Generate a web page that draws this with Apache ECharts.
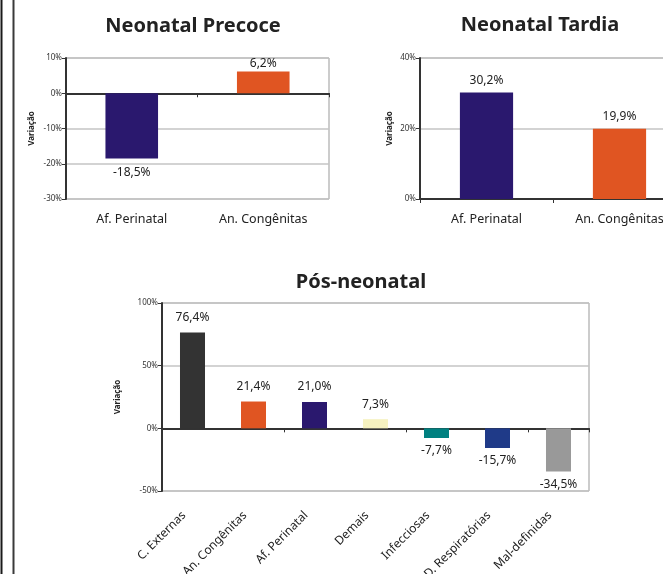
<!DOCTYPE html>
<html>
<head>
<meta charset="utf-8">
<script src="https://cdn.jsdelivr.net/npm/echarts@6/dist/echarts.min.js"></script>
<style>
  html, body { margin: 0; padding: 0; background: #ffffff; }
  #chart { width: 663px; height: 574px; }
</style>
</head>
<body>
<div id="chart"></div>
<script>
// Variação da mortalidade infantil por componente e grupo de causas
const precoceTitle = 'Neonatal Precoce';
const precoceCategories = ['Af. Perinatal', 'An. Congênitas'];
const precoceValues = [-18.5, 6.2];

const tardiaTitle = 'Neonatal Tardia';
const tardiaCategories = ['Af. Perinatal', 'An. Congênitas'];
const tardiaValues = [30.2, 19.9];

const posTitle = 'Pós-neonatal';
const posCategories = ['C. Externas', 'An. Congênitas', 'Af. Perinatal', 'Demais', 'Infecciosas', 'D. Respiratórias', 'Mal-definidas'];
const posValues = [76.4, 21.4, 21.0, 7.3, -7.7, -15.7, -34.5];

// axis ranges (min, max, step) for each panel
const precoceScale = [-30, 10, 10];
const tardiaScale = [0, 40, 20];
const posScale = [-50, 100, 50];

const axisName = 'Variação';

// colours per category
const precoceColors = ['#2a186e', '#e05522'];
const tardiaColors = ['#2a186e', '#e05522'];
const posColors = ['#333333', '#e05522', '#2a186e', '#f6f2c0', '#008080', '#1f3a88', '#999999'];

const FONT = 'Noto Sans, DejaVu Sans, sans-serif';

function fmt(v) {
  return v.toFixed(1).replace('.', ',') + '%';
}

// labels sit above positive bars and below negative ones
function barData(values, colors, upGap, downGap) {
  return values.map((v, i) => ({
    value: v,
    itemStyle: { color: colors[i] },
    label: { position: v < 0 ? 'bottom' : 'top', distance: v < 0 ? downGap : upGap }
  }));
}

function grid(box) {
  return Object.assign({
    show: true, borderColor: '#999999', borderWidth: 1, backgroundColor: 'transparent',
    containLabel: false, outerBoundsMode: 'none'
  }, box);
}

// each panel uses two category axes: one along the bottom edge carrying the labels,
// one sitting on the zero line with the tick marks
function xAxes(gridIndex, cats, labelOpts) {
  return [
    {
      type: 'category', gridIndex, data: cats, position: 'bottom',
      axisLine: { show: false, onZero: false }, axisTick: { show: false },
      axisLabel: Object.assign({ color: '#222', fontFamily: FONT, fontSize: 12.5, interval: 0 }, labelOpts)
    },
    {
      type: 'category', gridIndex, data: cats, position: 'bottom',
      axisLine: { show: true, onZero: true, lineStyle: { color: '#333333', width: 2 } },
      axisTick: { show: true, inside: false, length: 4, lineStyle: { color: '#333333', width: 1 } },
      axisLabel: { show: false }, splitLine: { show: false }
    }
  ];
}

function yAxis(gridIndex, scale, nameGap) {
  return {
    type: 'value', gridIndex, min: scale[0], max: scale[1], interval: scale[2],
    axisLine: { show: true, lineStyle: { color: '#333333', width: 2 } },
    axisTick: { show: true, length: 4, lineStyle: { color: '#333333' } },
    axisLabel: { formatter: '{value}%', fontFamily: FONT, fontSize: 8, color: '#333', margin: 4 },
    splitLine: { show: true, lineStyle: { color: '#c4c4c4', width: 1.5 } },
    name: axisName, nameLocation: 'middle', nameRotate: 90, nameGap,
    nameTextStyle: { fontFamily: FONT, fontSize: 8, fontWeight: 'bold', color: '#222' }
  };
}

function series(xi, yi, values, colors, width, upGap, downGap) {
  return {
    type: 'bar', xAxisIndex: xi, yAxisIndex: yi, barWidth: width,
    data: barData(values, colors, upGap, downGap),
    label: {
      show: true, fontFamily: FONT, fontSize: 12, color: '#222',
      formatter: p => fmt(p.value)
    }
  };
}

const titleStyle = { fontFamily: FONT, fontSize: 20, fontWeight: 'bold', color: '#222' };

const chart = echarts.init(document.getElementById('chart'), null, { renderer: 'canvas' });
chart.setOption({
  animation: false,
  backgroundColor: '#ffffff',
  title: [
    { text: precoceTitle, left: 188, top: 11, textAlign: 'center', textStyle: titleStyle },
    { text: tardiaTitle, left: 535, top: 10, textAlign: 'center', textStyle: titleStyle },
    { text: posTitle, left: 356, top: 267, textAlign: 'center', textStyle: titleStyle }
  ],
  graphic: [
    { type: 'line', shape: { x1: 1.5, y1: 0, x2: 1.5, y2: 574 }, style: { stroke: '#1a1a1a', lineWidth: 2 } },
    { type: 'line', shape: { x1: 13.5, y1: 0, x2: 13.5, y2: 574 }, style: { stroke: '#3a3a3a', lineWidth: 2 } }
  ],
  grid: [
    grid({ left: 66, top: 58, width: 263, height: 141 }),
    grid({ left: 420, top: 58, width: 266, height: 141 }),
    grid({ left: 162, top: 303, width: 427, height: 188 })
  ],
  xAxis: [
    ...xAxes(0, precoceCategories, { margin: 14 }),
    ...xAxes(1, tardiaCategories, { margin: 14 }),
    // slanted labels, nudged so each one ends just left of its bar
    ...xAxes(2, posCategories, { rotate: 45, fontSize: 12, margin: 14, padding: [0, 12, 0, 0] })
  ],
  yAxis: [
    yAxis(0, precoceScale, 30),
    yAxis(1, tardiaScale, 26),
    yAxis(2, posScale, 40)
  ],
  series: [
    series(0, 0, precoceValues, precoceColors, '40%', 2, 8),
    series(2, 1, tardiaValues, tardiaColors, '40%', 6, 6),
    series(4, 2, posValues, posColors, '41%', 9, 7)
  ]
});
</script>
</body>
</html>
